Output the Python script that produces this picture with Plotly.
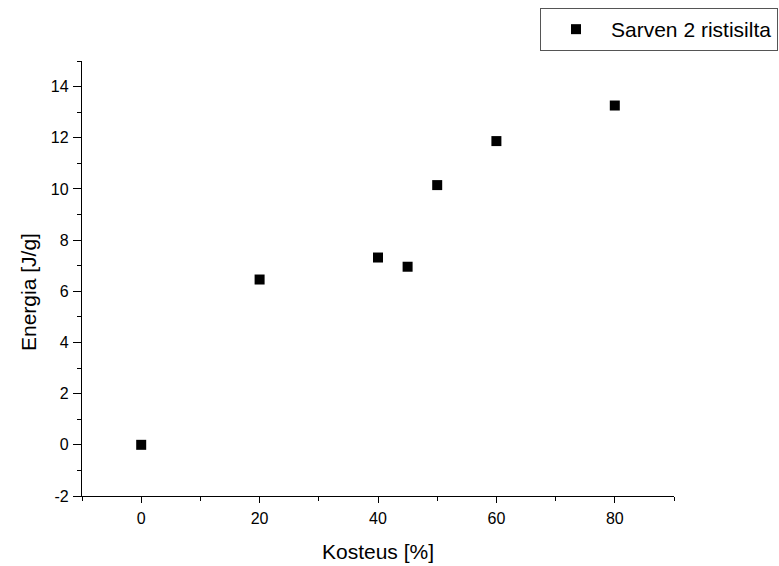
import plotly.graph_objects as go

kosteus = [0, 20, 40, 45, 50, 60, 80]
energia = [0.0, 6.46, 7.32, 6.96, 10.15, 11.87, 13.26]
series_name = "Sarven 2 ristisilta"
x_ticks = [0, 20, 40, 60, 80]
y_ticks = [-2, 0, 2, 4, 6, 8, 10, 12, 14]
y_ticktext = [str(v) for v in y_ticks]  # plain hyphen for negatives

fig = go.Figure()
fig.add_trace(go.Scatter(
    x=kosteus, y=energia, mode="markers", name=series_name,
    marker=dict(symbol="square", size=10, color="black"),
    showlegend=True,
))

axis_common = dict(
    showgrid=False, zeroline=False, showline=True, linecolor="black", linewidth=1.3,
    ticks="outside", tickwidth=1.3, tickcolor="black",
    tickfont=dict(family="Liberation Sans, Arial", size=16, color="black"),
    mirror=False,
)

fig.update_layout(
    width=779, height=566,
    margin=dict(l=82, r=105, t=61, b=70, autoexpand=False),
    paper_bgcolor="white", plot_bgcolor="white",
    font=dict(family="Liberation Sans, Arial", color="black"),
    xaxis=dict(
        range=[-10, 90], tickvals=x_ticks, ticklen=6, ticklabelstandoff=2,
        minor=dict(ticks="outside", ticklen=4, tickwidth=1.3, tickcolor="black", dtick=10, tick0=0),
        title=dict(text="Kosteus [%]", font=dict(size=21), standoff=17),
        **axis_common,
    ),
    yaxis=dict(
        range=[-2, 15], tickvals=y_ticks, ticktext=y_ticktext, ticklen=8, ticklabelstandoff=1,
        minor=dict(ticks="outside", ticklen=4, tickwidth=1.3, tickcolor="black", dtick=1, tick0=0),
        **axis_common,
    ),
    annotations=[dict(
        text="Energia [J/g]", textangle=-90, showarrow=False,
        xref="paper", yref="paper", x=(28 - 82) / 592, y=(496 - 292) / 435,
        xanchor="center", yanchor="middle", font=dict(size=21, color="black"),
    )],
    legend=dict(
        x=1.1757, y=1.1218, xanchor="right", yanchor="top",
        bordercolor="#555555", borderwidth=1, bgcolor="white",
        font=dict(size=21, color="black"), itemwidth=60,
    ),
)

fig.write_html("out.html")
